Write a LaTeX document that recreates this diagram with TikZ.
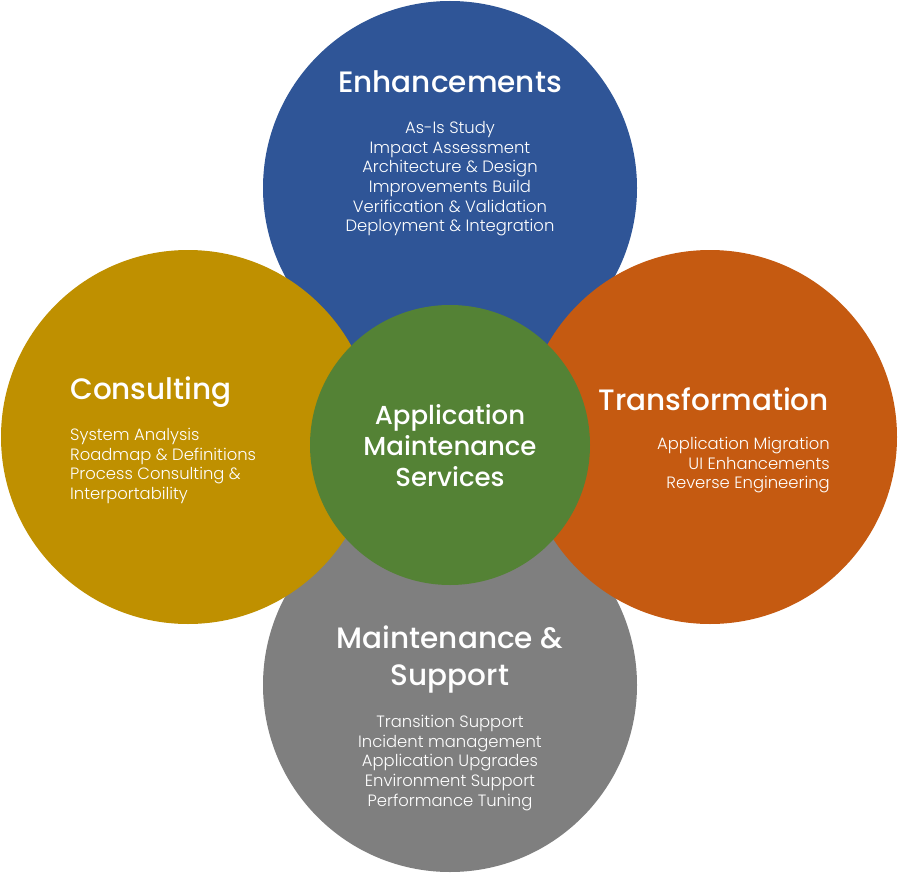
\documentclass[tikz,border=0pt]{standalone}
\usepackage{fontspec}
\setmainfont{Poppins}
\newfontfamily\lightfont{Poppins Light}
\newfontfamily\midfont{Poppins Medium}
\usepackage{xcolor}
\usepackage{tikz}
\definecolor{cblue}{RGB}{47,85,151}
\definecolor{cgold}{RGB}{191,144,0}
\definecolor{corange}{RGB}{197,90,17}
\definecolor{cgray}{RGB}{127,127,127}
\definecolor{cgreen}{RGB}{84,130,53}
\tikzset{
  disc/.style  ={circle, inner sep=0pt, minimum size=374pt},
  hub/.style   ={circle, inner sep=0pt, minimum size=280pt},
  ttl/.style   ={text=white, inner sep=0pt, font=\midfont\fontsize{29.5}{37}\selectfont},
  body/.style  ={text=white, inner sep=0pt, font=\lightfont\fontsize{16.4}{19.7}\selectfont},
}

\begin{document}
\begin{tikzpicture}[x=1pt,y=-1pt]
  \useasboundingbox[fill=white] (0,0) rectangle (900,880);
  % outer discs
  \node[disc,fill=cblue]   (enh)  at (450,188) {};
  \node[disc,fill=cgray]   (mnt)  at (450,685) {};
  \node[disc,fill=cgold]   (cons) at (188,437) {};
  \node[disc,fill=corange] (trf)  at (710,437) {};
  \node[hub,fill=cgreen]   (ams)  at (450,445) {};
  % enhancements
  \node[ttl] (enhT) at (450,82) {Enhancements};
  \node[body,align=center,anchor=north] (enhB) at (450,121)
    {As-Is Study\\Impact Assessment\\Architecture \& Design\\Improvements Build\\Verification \& Validation\\Deployment \& Integration};
  % consulting
  \node[ttl,anchor=west] (consT) at (70,392) {Consulting};
  \node[body,align=left,anchor=north west] (consB) at (70,428)
    {System Analysis\\Roadmap \& Definitions\\Process Consulting \&\\Interportability};
  % transformation
  \node[ttl,anchor=east] (trfT) at (829,399) {Transformation};
  \node[body,align=right,anchor=north east] (trfB) at (830,437)
    {Application Migration\\UI Enhancements\\Reverse Engineering};
  % maintenance
  \node[ttl,align=center,anchor=north] (mntT) at (450,626)
    {Maintenance \&\\Support};
  \node[body,align=center,anchor=north] (mntB) at (450,715)
    {Transition Support\\Incident management\\Application Upgrades\\Environment Support\\Performance Tuning};
  % hub
  \node[ttl,align=center,font=\midfont\fontsize{26}{31}\selectfont] (amsT) at (450,446)
    {Application\\Maintenance\\Services};
\end{tikzpicture}
\end{document}
